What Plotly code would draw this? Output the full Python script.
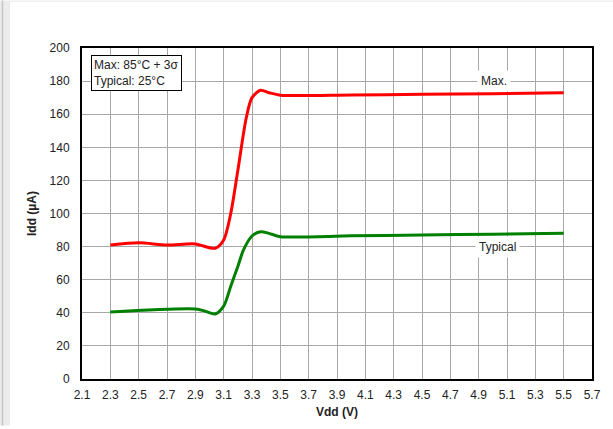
import plotly.graph_objects as go

max_x = [2.3, 2.5, 2.7, 2.9, 3.04, 3.1, 3.15, 3.2, 3.26, 3.3, 3.36, 3.42, 3.5, 4.0, 4.5, 5.0, 5.5]
max_y = [81, 82.3, 81, 81.6, 79, 84, 100, 126, 158, 170, 174.5, 173, 171.5, 171.6, 172, 172.4, 173]
typ_x = [2.3, 2.9, 2.97, 3.04, 3.1, 3.15, 3.2, 3.24, 3.3, 3.36, 3.42, 3.5, 4.0, 4.5, 5.0, 5.5]
typ_y = [40.5, 42.3, 41, 39.3, 44, 56, 68, 78, 86.4, 89, 88, 86, 86.5, 87, 87.5, 88]
x_ticks = [round(2.1 + 0.2 * i, 1) for i in range(19)]
y_ticks = list(range(0, 201, 20))

FONT = "Liberation Sans, Arial, sans-serif"
W, H = 613, 429
L, R, T, B = 82, 21, 48, 47
PW, PH = W - L - R, H - T - B


def px(xp):
    return (xp - L) / PW


def py(yp):
    return (H - B - yp) / PH


fig = go.Figure()
fig.add_trace(go.Scatter(x=max_x, y=max_y, mode="lines", line=dict(color="#ff0000", width=3, shape="spline", smoothing=0.8), name="Max.", hoverinfo="skip"))
fig.add_trace(go.Scatter(x=typ_x, y=typ_y, mode="lines", line=dict(color="#008000", width=3, shape="spline", smoothing=0.8), name="Typical", hoverinfo="skip"))

fig.update_layout(
    width=W, height=H,
    margin=dict(l=L, r=R, t=T, b=B),
    paper_bgcolor="white", plot_bgcolor="white",
    showlegend=False,
    font=dict(family=FONT, size=12, color="#222"),
    xaxis=dict(range=[2.1, 5.7], tickvals=x_ticks, ticktext=[f"{v:.1f}" for v in x_ticks],
               showgrid=True, gridcolor="#a8a8a8", gridwidth=1,
               showline=True, linecolor="black", linewidth=2, mirror=True,
               zeroline=False, ticks="", ticklabelstandoff=4,
               title=dict(text="<b>Vdd (V)</b>", font=dict(size=12, family=FONT, color="#222"), standoff=6)),
    yaxis=dict(range=[0, 200], tickvals=y_ticks,
               showgrid=True, gridcolor="#a8a8a8", gridwidth=1,
               showline=True, linecolor="black", linewidth=2, mirror=True,
               zeroline=False, ticks="", ticklabelstandoff=8,
               title=dict(text="<b>Idd (µA)</b>", font=dict(size=12, family=FONT, color="#222"), standoff=10)),
    shapes=[
        dict(type="rect", xref="paper", yref="paper", x0=px(0), x1=px(10), y0=py(H), y1=py(0),
             fillcolor="#ececec", line=dict(width=0), layer="below"),
        dict(type="line", xref="paper", yref="paper", x0=px(2.5), x1=px(2.5), y0=py(H), y1=py(0),
             line=dict(color="#c4c4c4", width=1.5), layer="below"),
        dict(type="rect", xref="paper", yref="paper", x0=px(10), x1=px(W), y0=py(1.5), y1=py(0),
             fillcolor="#efefef", line=dict(width=0), layer="below"),
    ],
    annotations=[
        dict(x=5.01, y=180, text="Max.", showarrow=False, bgcolor="white", font=dict(size=12, family=FONT, color="#222"), borderpad=3),
        dict(x=5.03, y=80, text="Typical", showarrow=False, bgcolor="white", font=dict(size=12, family=FONT, color="#222"), borderpad=3),
        dict(xref="paper", yref="paper", x=px(91), y=py(55), xanchor="left", yanchor="top",
             text="Max: 85°C + 3σ<br>Typical: 25°C", align="left", showarrow=False,
             bgcolor="white", bordercolor="black", borderwidth=1, borderpad=2,
             font=dict(size=12, family=FONT, color="#222")),
    ],
)

fig.write_html("out.html", config={"displayModeBar": False},
               post_script="document.body.style.margin='0';document.body.style.overflow='hidden';")
